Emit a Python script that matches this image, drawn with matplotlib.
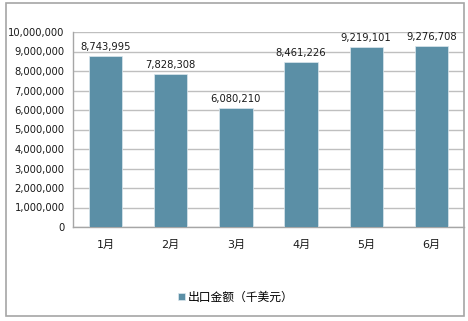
import matplotlib
matplotlib.use('Agg')
import matplotlib.pyplot as plt
from matplotlib.patches import Rectangle
from matplotlib.ticker import FuncFormatter

plt.rcParams['font.family'] = ['DejaVu Sans', 'Noto Sans CJK SC']

months = ['1月', '2月', '3月', '4月', '5月', '6月']
export_values = [8743995, 7828308, 6080210, 8461226, 9219101, 9276708]
series_name = '出口金额（千美元）'
y_ticks = [0, 1000000, 2000000, 3000000, 4000000, 5000000,
           6000000, 7000000, 8000000, 9000000, 10000000]

bar_color = '#5B8FA6'
grid_color = '#BFBFBF'

fig = plt.figure(figsize=(4.68, 3.21), dpi=100)

# outer chart border
fig.patches.append(Rectangle((6 / 468, 5 / 321), 458 / 468, 313 / 321,
                             transform=fig.transFigure, fill=False,
                             edgecolor='#A6A6A6', linewidth=1.2))

ax = fig.add_axes((73 / 468, 94 / 321, 391 / 468, 195 / 321))
x = range(len(months))
bars = ax.bar(x, export_values, width=0.51, color=bar_color,
              edgecolor='#DCE8EE', linewidth=0.5, label=series_name, zorder=3)

for xi, v in zip(x, export_values):
    ax.annotate(f'{v:,}', (xi, v), xytext=(0, 3), textcoords='offset points',
                ha='center', va='bottom', fontsize=7.2, color='#1a1a1a')

ax.set_xlim(-0.5, len(months) - 0.5)
ax.set_ylim(0, 10000000)
ax.set_yticks(y_ticks)
ax.yaxis.set_major_formatter(FuncFormatter(lambda v, p: f'{int(v):,}'))
ax.set_xticks(list(x))
ax.set_xticklabels(months)
ax.tick_params(axis='both', length=0, labelsize=7.2, colors='#1a1a1a')
ax.tick_params(axis='x', pad=9, labelsize=8)
ax.tick_params(axis='y', pad=6)
ax.grid(axis='y', color=grid_color, linewidth=1, zorder=0)
ax.set_axisbelow(True)
for side in ['top', 'right']:
    ax.spines[side].set_visible(False)
for side in ['left', 'bottom']:
    ax.spines[side].set_color('#A6A6A6')
    ax.spines[side].set_linewidth(1)

fig.legend(handles=[bars], labels=[series_name], loc='center',
           bbox_to_anchor=(236 / 468, 1 - 297 / 321), frameon=False,
           fontsize=8.5, handlelength=0.6, handleheight=0.6, handletextpad=0.2)

fig.savefig('out.png', dpi=100)
